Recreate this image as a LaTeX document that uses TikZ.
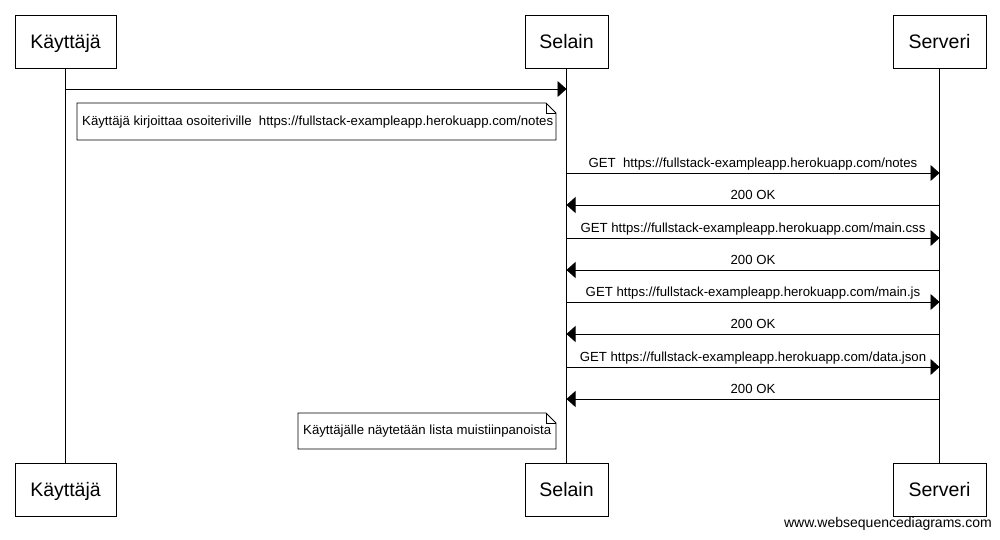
\documentclass[tikz,border=0pt]{standalone}
\usepackage{fontspec}
\setmainfont{Liberation Sans}
\usetikzlibrary{arrows.meta}
\begin{document}
\begin{tikzpicture}[x=1pt,y=-1pt,
  actor/.style={draw,line width=0.8pt,minimum height=53pt,inner sep=0pt,font=\fontsize{19.5}{22}\selectfont,text height=14pt,text depth=1pt},
  life/.style={line width=0.8pt},
  msg/.style={line width=0.8pt,-{Triangle[length=9pt,width=16pt]}},
  lbl/.style={font=\fontsize{13.2}{15}\selectfont,inner sep=0pt,anchor=base},
  notetext/.style={font=\fontsize{13.2}{15}\selectfont,inner sep=0pt}]
\useasboundingbox (0,0) rectangle (1000,539);
% actors top
\node[actor,minimum width=101pt] (k1) at (65.5,41.5) {Käyttäjä};
\node[actor,minimum width=83pt] (s1) at (566.5,41.5) {Selain};
\node[actor,minimum width=93pt] (v1) at (939.5,41.5) {Serveri};
% actors bottom
\node[actor,minimum width=101pt] (k2) at (65.5,489.5) {Käyttäjä};
\node[actor,minimum width=83pt] (s2) at (566.5,489.5) {Selain};
\node[actor,minimum width=93pt] (v2) at (939.5,489.5) {Serveri};
% lifelines
\draw[life] (k1.south) -- (k2.north);
\draw[life] (s1.south) -- (s2.north);
\draw[life] (v1.south) -- (v2.north);
% message coordinates
\foreach \n/\y in {a/89,b/173,c/205,d/238,e/270,f/302,g/334,h/367,i/399}{
  \coordinate (K\n) at (65.5,\y);
  \coordinate (S\n) at (566.5,\y);
  \coordinate (V\n) at (939.5,\y);
}
\draw[msg] (Ka) -- (Sa);
% note 1
\draw[line width=0.8pt] (77,103) -- (546,103) -- (556,113) -- (556,140) -- (77,140) -- cycle;
\draw[line width=0.6pt] (546,103) -- (546,113) -- (556,113);
\node[notetext,anchor=west] (n1) at (82,122) {Käyttäjä kirjoittaa osoiteriville\ \ https://fullstack-exampleapp.herokuapp.com/notes};
% messages
\draw[msg] (Sb) -- (Vb) node[lbl,midway,yshift=6pt] (lb) {GET\ \ https://fullstack-exampleapp.herokuapp.com/notes};
\draw[msg] (Vc) -- (Sc) node[lbl,midway,yshift=6pt] (lc) {200 OK};
\draw[msg] (Sd) -- (Vd) node[lbl,midway,yshift=6pt] (ld) {GET https://fullstack-exampleapp.herokuapp.com/main.css};
\draw[msg] (Ve) -- (Se) node[lbl,midway,yshift=6pt] (le) {200 OK};
\draw[msg] (Sf) -- (Vf) node[lbl,midway,yshift=6pt] (lf) {GET https://fullstack-exampleapp.herokuapp.com/main.js};
\draw[msg] (Vg) -- (Sg) node[lbl,midway,yshift=6pt] (lg) {200 OK};
\draw[msg] (Sh) -- (Vh) node[lbl,midway,yshift=6pt] (lh) {GET https://fullstack-exampleapp.herokuapp.com/data.json};
\draw[msg] (Vi) -- (Si) node[lbl,midway,yshift=6pt] (li) {200 OK};
% note 2
\draw[line width=0.8pt] (298,413) -- (546,413) -- (556,423) -- (556,449) -- (298,449) -- cycle;
\draw[line width=0.6pt] (546,413) -- (546,423) -- (556,423);
\node[notetext,anchor=west] (n2) at (303,431.5) {Käyttäjälle näytetään lista muistiinpanoista};
% watermark
\node[font=\fontsize{14}{16}\selectfont,inner sep=0pt,anchor=east] (wm) at (992,524) {www.websequencediagrams.com};
\end{tikzpicture}
\end{document}
